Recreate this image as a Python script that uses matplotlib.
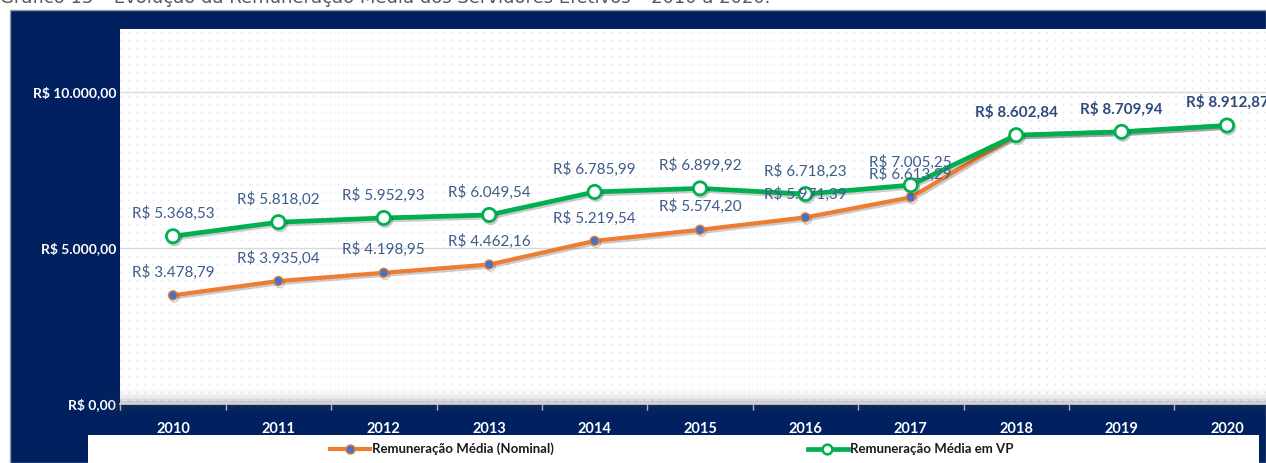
import matplotlib
matplotlib.use("Agg")
import matplotlib.pyplot as plt
import matplotlib.patheffects as pe
from matplotlib.patches import Rectangle
from matplotlib.lines import Line2D
import numpy as np

years = ["2010", "2011", "2012", "2013", "2014", "2015", "2016", "2017", "2018", "2019", "2020"]
nominal = [3478.79, 3935.04, 4198.95, 4462.16, 5219.54, 5574.20, 5971.39, 6613.29, 8602.84, 8709.94, 8912.87]
vp = [5368.53, 5818.02, 5952.93, 6049.54, 6785.99, 6899.92, 6718.23, 7005.25, 8602.84, 8709.94, 8912.87]
nominal_labels = ["R$ 3.478,79", "R$ 3.935,04", "R$ 4.198,95", "R$ 4.462,16", "R$ 5.219,54",
                  "R$ 5.574,20", "R$ 5.971,39", "R$ 6.613,29", "", "", ""]
vp_labels = ["R$ 5.368,53", "R$ 5.818,02", "R$ 5.952,93", "R$ 6.049,54", "R$ 6.785,99",
             "R$ 6.899,92", "R$ 6.718,23", "R$ 7.005,25", "R$ 8.602,84", "R$ 8.709,94", "R$ 8.912,87"]
yticks = [0, 5000, 10000]
ytick_labels = ["R$ 0,00", "R$ 5.000,00", "R$ 10.000,00"]
series_names = ["Remuneração Média (Nominal)", "Remuneração Média em VP"]
title = "Gráfico 13 – Evolução da Remuneração Média dos Servidores Efetivos – 2010 a 2020."

W, H = 1266, 463
NAVY = "#002060"
GREEN = "#00b050"
ORANGE = "#ed7d31"
BLUE = "#4472c4"
LABEL = "#3e5c8a"

fig = plt.figure(figsize=(W / 100, H / 100), dpi=100)
fig.patch.set_facecolor("white")

def fx(px):
    return px / W

def fy(py):
    return 1 - py / H

# navy frame
fig.add_artist(Rectangle((fx(10), 0), fx(W - 10), fy(10), transform=fig.transFigure,
                         facecolor=NAVY, edgecolor="#9a9a9a", linewidth=1.0, zorder=0))
# legend white box
fig.add_artist(Rectangle((fx(88), 0), fx(1259 - 88), fy(435), transform=fig.transFigure,
                         facecolor="white", edgecolor="none", zorder=1))

# title (cut at top)
fig.text(0.0, fy(3), title, ha="left", va="baseline", fontsize=13, color="#595959",
         family="DejaVu Sans")

# axes
left_px, right_px = 120.3, 120.3 + 11 * 105.4
top_px, bot_px = 29, 404
ax = fig.add_axes([fx(left_px), fy(bot_px), fx(right_px - left_px), (bot_px - top_px) / H])
ax.set_facecolor("white")
x = np.arange(len(years))
ax.set_xlim(-0.5, len(years) - 0.5)
ax.set_ylim(0, 12000)

# dot pattern background
step = 12000 / 375 * 8
for yv in np.arange(step / 2, 12000, step):
    ax.axhline(yv, color="#d3ddee", linewidth=1.0, linestyle=(0, (0.8, 5.0)), zorder=0.5)

for yv in yticks[1:]:
    ax.axhline(yv, color="#d9d9d9", linewidth=1.0, zorder=1)

for s in ax.spines.values():
    s.set_visible(False)

# x-axis shadow band
for lw, a in [(20, 0.04), (14, 0.06), (9, 0.08), (5, 0.11)]:
    ax.axhline(0, color="#404040", linewidth=lw, alpha=a, zorder=2, clip_on=False)
ax.axhline(0, color="#d0d8e8", linewidth=1.2, zorder=3, clip_on=False)

ax.set_yticks(yticks)
ax.set_yticklabels(ytick_labels)
ax.set_xticks(x)
ax.set_xticklabels(years)
ax.set_xticks(np.arange(-0.5, len(years), 1), minor=True)
ax.tick_params(axis="y", length=0, pad=3, labelsize=10, labelcolor="white")
ax.tick_params(axis="x", which="major", length=0, pad=13, labelsize=10.5, labelcolor="white")
ax.tick_params(axis="x", which="minor", length=4, width=1, color="#d0d8e8", direction="out")
for lab in ax.get_yticklabels() + ax.get_xticklabels():
    lab.set_fontweight("bold")
    lab.set_family("Lato")

shadow = [pe.SimpleLineShadow(offset=(1, -1.5), alpha=0.2, shadow_color="black"), pe.Normal()]
ax.plot(x, nominal, color=ORANGE, linewidth=3.0, marker="o", markersize=6.5,
        markerfacecolor=BLUE, markeredgecolor=ORANGE, markeredgewidth=1.0,
        zorder=4, path_effects=shadow, solid_capstyle="round")
ax.plot(x, vp, color=GREEN, linewidth=3.4, marker="o", markersize=9.5,
        markerfacecolor="white", markeredgecolor=GREEN, markeredgewidth=2.0,
        zorder=5, path_effects=shadow, solid_capstyle="round")

for xi, v, t in zip(x, nominal, nominal_labels):
    if t:
        ax.annotate(t, (xi, v), xytext=(0, 23), textcoords="offset pixels", ha="center",
                    va="center", fontsize=11, color=LABEL, family="Lato", zorder=6,
                    annotation_clip=False)
for xi, v, t in zip(x, vp, vp_labels):
    bold = xi >= 8
    ax.annotate(t, (xi, v), xytext=(0, 23), textcoords="offset pixels", ha="center",
                va="center", fontsize=11, color="#2f4b7c" if bold else LABEL, family="Lato",
                fontweight="bold" if bold else "normal", zorder=6, annotation_clip=False)

# legend (manual)
ly = fy(449)
fig.add_artist(Line2D([fx(330), fx(370)], [ly, ly], transform=fig.transFigure, color=ORANGE,
                      linewidth=3.0, zorder=5))
fig.add_artist(Line2D([fx(350)], [ly], transform=fig.transFigure, color=ORANGE, linestyle="none",
                      marker="o", markersize=6.5, markerfacecolor=BLUE, markeredgecolor=ORANGE,
                      markeredgewidth=1.0, zorder=6))
fig.text(fx(372), ly, series_names[0], ha="left", va="center", fontsize=9.5, color="#1a1a1a",
         family="Lato", fontweight="bold")
fig.add_artist(Line2D([fx(808), fx(848)], [ly, ly], transform=fig.transFigure, color=GREEN,
                      linewidth=3.4, zorder=5))
fig.add_artist(Line2D([fx(827)], [ly], transform=fig.transFigure, color=GREEN, linestyle="none",
                      marker="o", markersize=7, markerfacecolor="white", markeredgecolor=GREEN,
                      markeredgewidth=1.8, zorder=6))
fig.text(fx(850), ly, series_names[1], ha="left", va="center", fontsize=9.5, color="#1a1a1a",
         family="Lato", fontweight="bold")

fig.savefig("out.png", dpi=100, facecolor=fig.get_facecolor())
